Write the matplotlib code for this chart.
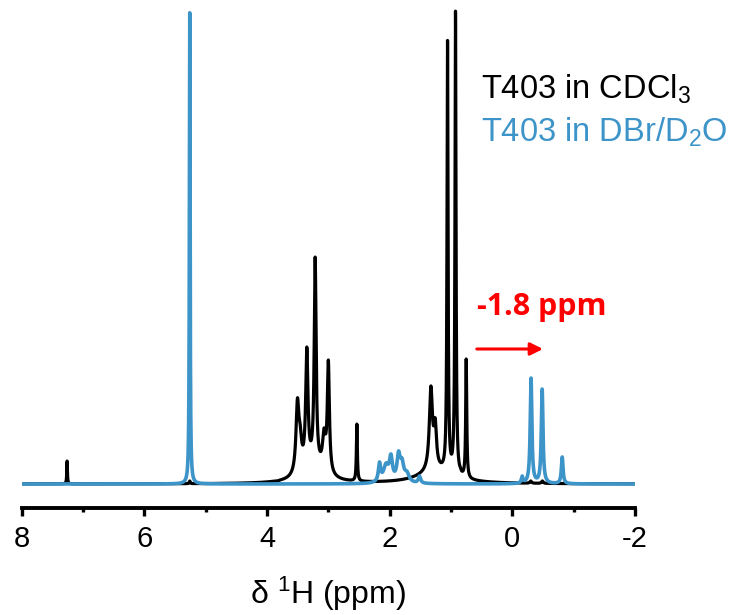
import numpy as np
import matplotlib.pyplot as plt

plt.rcParams['font.family'] = ['Liberation Sans', 'DejaVu Sans']
plt.rcParams['mathtext.fontset'] = 'custom'
plt.rcParams['mathtext.rm'] = 'Liberation Sans'
plt.rcParams['mathtext.it'] = 'Liberation Sans:italic'

# peak tables: position (ppm), height above baseline (a.u.), half width (ppm)
cdcl3_pos = [7.26, 5.26, 3.83, 3.504, 3.46, 3.351, 3.215, 3.07, 3.00, 2.535,
             1.328, 1.258, 1.057, 0.927, 0.85, 0.752, -0.30, -0.49]
cdcl3_height = [23, 3, 3, 86, 60, 137, 227, 56, 124, 60,
                98, 66, 444, 473, 17, 125, 3, 3]
cdcl3_hw = [0.006, 0.008, 0.02, 0.028, 0.03, 0.022, 0.018, 0.03, 0.02, 0.009,
            0.03, 0.025, 0.01, 0.01, 0.012, 0.01, 0.015, 0.015]
# broad humps underneath the multiplets
cdcl3_broad_pos = [3.25, 1.25]
cdcl3_broad_amp = [16, 12]
cdcl3_broad_hw = [0.22, 0.35]

dbr_pos = [5.26, 2.166, 2.06, 1.98, 1.856, 1.80, 1.72, 1.514,
           -0.16, -0.305, -0.486, -0.813]
dbr_height = [473, 22, 21, 30, 33, 26, 13, 8,
              8, 106, 95, 27]
dbr_hw = [0.007, 0.022, 0.05, 0.03, 0.03, 0.035, 0.045, 0.022,
          0.015, 0.016, 0.016, 0.016]

label_cdcl3 = r'T403 in CDCl$_\mathregular{3}$'
label_dbr = r'T403 in DBr/D$_\mathregular{2}$O'
shift_text = '-1.8 ppm'
shift_from, shift_to = 0.58, -0.50

xticks_major = [8, 6, 4, 2, 0, -2]
xticks_minor = [7, 5, 3, 1, -1]


def lorentz(x, x0, g):
    return g ** 2 / (g ** 2 + (x - x0) ** 2)


def build_spectrum(x, pos, height, hw, bpos=(), bamp=(), bhw=()):
    """sum of lorentzians whose total hits the given heights at the peak tops"""
    pos = np.asarray(pos, float)
    hw = np.asarray(hw, float)
    back = np.zeros_like(x)
    back_at_pos = np.zeros(len(pos))
    for p, a, g in zip(bpos, bamp, bhw):
        back += a * lorentz(x, p, g)
        back_at_pos += a * lorentz(pos, p, g)
    m = lorentz(pos[:, None], pos[None, :], hw[None, :])
    amps = np.linalg.solve(m, np.asarray(height, float) - back_at_pos)
    y = back.copy()
    for p, a, g in zip(pos, amps, hw):
        y += a * lorentz(x, p, g)
    return y


ppm = np.linspace(8.3, -2.3, 12001)
y_cdcl3 = build_spectrum(ppm, cdcl3_pos, cdcl3_height, cdcl3_hw,
                         cdcl3_broad_pos, cdcl3_broad_amp, cdcl3_broad_hw)
y_dbr = build_spectrum(ppm, dbr_pos, dbr_height, dbr_hw)

black = '#000000'
blue = '#3d94c9'
red = '#ff0000'

fig = plt.figure(figsize=(7.33, 6.15), dpi=100)
ax = fig.add_axes([0.0296, 0.174, 0.8367, 0.826])

ax.plot(ppm, y_cdcl3, color=black, lw=2.3, solid_joinstyle='round')
ax.plot(ppm, y_dbr, color=blue, lw=2.6, solid_joinstyle='round')

ax.set_xlim(8, -2)
ax.set_ylim(-24, 484)

for s in ['top', 'right', 'left']:
    ax.spines[s].set_visible(False)
ax.spines['bottom'].set_linewidth(2.8)
ax.set_yticks([])
ax.set_xticks(xticks_major)
ax.set_xticklabels([str(t) for t in xticks_major])
ax.set_xticks(xticks_minor, minor=True)
ax.tick_params(axis='x', which='major', direction='out', length=6, width=2.4,
               labelsize=21, pad=6)
ax.tick_params(axis='x', which='minor', direction='out', length=3, width=2.4)
ax.set_xlabel(r'$\mathregular{\delta}$ $^\mathregular{1}$H (ppm)', fontsize=23,
              labelpad=16)

# shift arrow and its label
ax.annotate('', xy=(shift_to, 135), xytext=(shift_from, 135),
            arrowprops=dict(arrowstyle='-|>,head_length=0.5,head_width=0.25',
                            color=red, lw=2.2, mutation_scale=15,
                            shrinkA=0, shrinkB=0))
ax.text(shift_from, 169, shift_text, color=red,
        fontsize=22, fontweight='bold', family=['Open Sans', 'DejaVu Sans'],
        ha='left', va='baseline')

fig.text(0.656, 0.840, label_cdcl3, color=black, fontsize=23.5, va='baseline')
fig.text(0.656, 0.7696, label_dbr, color=blue, fontsize=23.5, va='baseline')

fig.savefig('out.png', dpi=100)
